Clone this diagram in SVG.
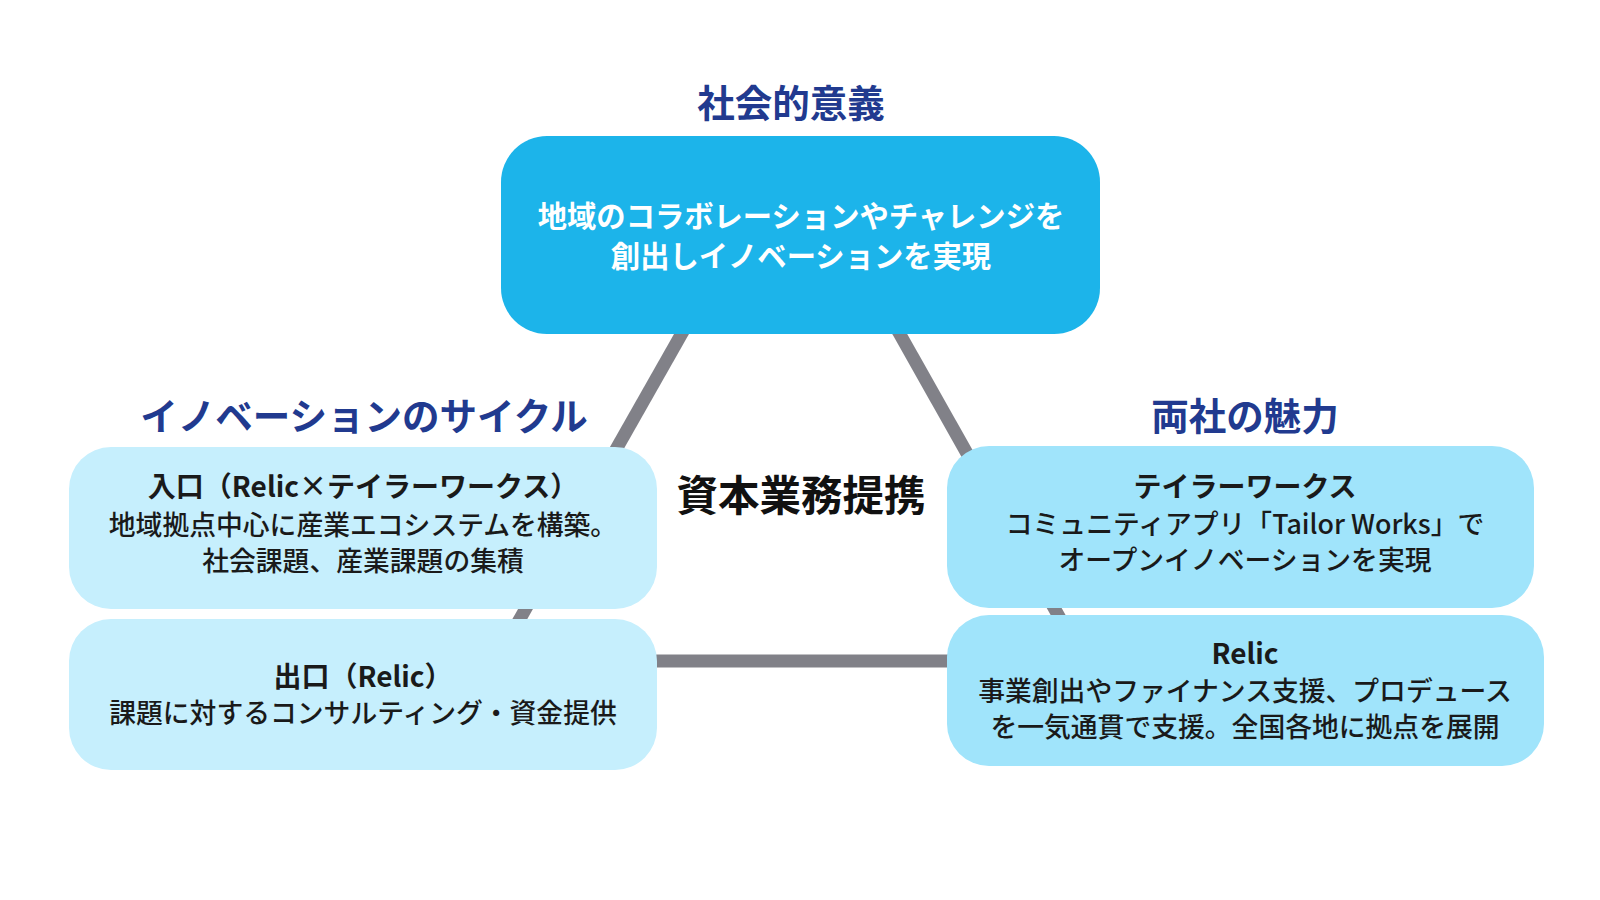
<svg xmlns="http://www.w3.org/2000/svg" width="1600" height="900" viewBox="0 0 1600 900">
<style>
text{font-family:"Noto Sans CJK JP","Noto Sans",sans-serif;text-anchor:middle;}
.head{font-size:37.5px;font-weight:700;fill:#213a8f;}
.top{font-size:29.3px;font-weight:700;fill:#ffffff;}
.bt{font-size:28px;font-weight:700;fill:#1a1a1a;}
.bd{font-size:26.8px;font-weight:500;fill:#1a1a1a;}
.center{font-size:41.5px;font-weight:700;fill:#111111;}
.lb{fill:#c6effd;}
.rb{fill:#a0e4fb;}
.conn{stroke:#818188;stroke-width:13;fill:none;}
</style>
<rect width="1600" height="900" fill="#ffffff"/>
<g id="connectors">
<line class="conn" x1="791" y1="141" x2="496" y2="661"/>
<line class="conn" x1="791" y1="141" x2="1084" y2="661"/>
<line class="conn" x1="496" y1="661" x2="1084" y2="661"/>
</g>
<g id="title-social">
<text class="head" x="791" y="117">社会的意義</text>
</g>
<g id="node-top">
<rect x="501" y="136" width="599" height="198" rx="46" fill="#1cb4ea"/>
<text class="top" x="801" y="227">地域のコラボレーションやチャレンジを</text>
<text class="top" x="801" y="267">創出しイノベーションを実現</text>
</g>
<g id="title-cycle">
<text class="head" x="364" y="430">イノベーションのサイクル</text>
</g>
<g id="title-appeal">
<text class="head" x="1245" y="430">両社の魅力</text>
</g>
<g id="center">
<text class="center" x="801" y="511">資本業務提携</text>
</g>
<g id="node-entry">
<rect class="lb" x="69" y="447" width="588" height="162" rx="42"/>
<text class="bt" x="363" y="497">入口（Relic×テイラーワークス）</text>
<text class="bd" x="363" y="535">地域拠点中心に産業エコシステムを構築。</text>
<text class="bd" x="363" y="571">社会課題、産業課題の集積</text>
</g>
<g id="node-exit">
<rect class="lb" x="69" y="619" width="588" height="151" rx="42"/>
<text class="bt" x="363" y="687">出口（Relic）</text>
<text class="bd" x="363" y="723">課題に対するコンサルティング・資金提供</text>
</g>
<g id="node-tailor">
<rect class="rb" x="947" y="446" width="587" height="162" rx="42"/>
<text class="bt" x="1245" y="497">テイラーワークス</text>
<text class="bd" x="1245" y="534">コミュニティアプリ「Tailor Works」で</text>
<text class="bd" x="1245" y="570">オープンイノベーションを実現</text>
</g>
<g id="node-relic">
<rect class="rb" x="947" y="615" width="597" height="151" rx="42"/>
<text class="bt" x="1245" y="664">Relic</text>
<text class="bd" x="1245" y="701">事業創出やファイナンス支援、プロデュース</text>
<text class="bd" x="1245" y="737">を一気通貫で支援。全国各地に拠点を展開</text>
</g>
</svg>
